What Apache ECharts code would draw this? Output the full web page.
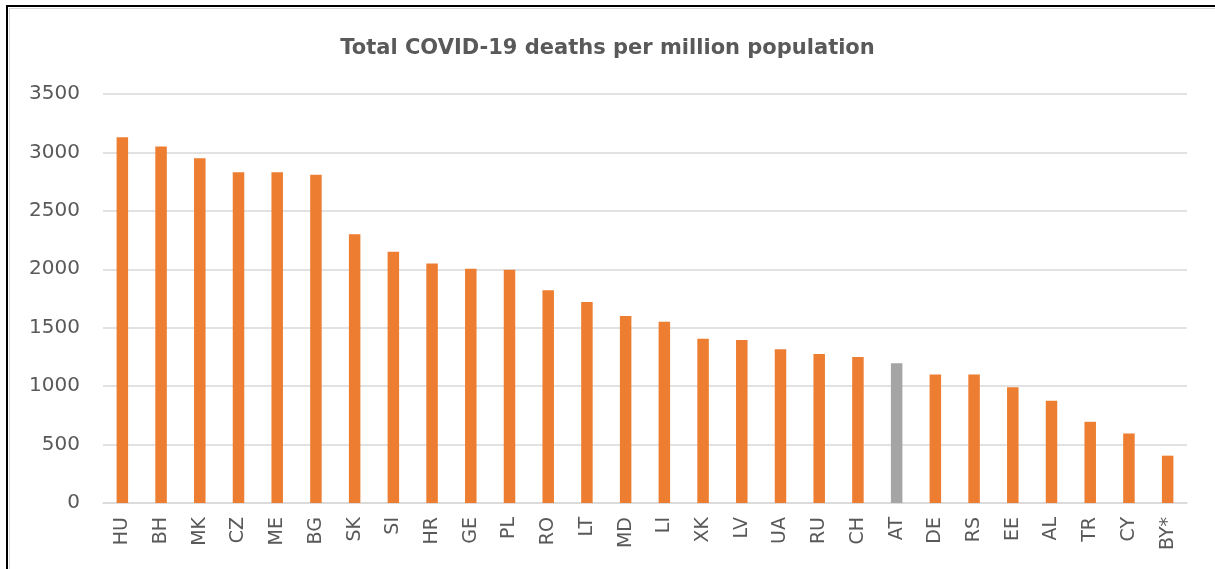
<!DOCTYPE html>
<html>
<head>
<meta charset="utf-8">
<title>Total COVID-19 deaths per million population</title>
<script src="https://cdn.jsdelivr.net/npm/echarts@6/dist/echarts.min.js"></script>
<style>
  html, body { margin: 0; padding: 0; background: #ffffff; overflow: hidden; }
  #frame {
    position: absolute; left: 6px; top: 5px; width: 1240px; height: 600px;
    border-left: 2px solid #000000; border-top: 2px solid #000000;
  }
  #inner {
    position: absolute; left: 1px; top: 1px; right: 0; bottom: 0;
    border-left: 1px solid #d9d9d9; border-top: 1px solid #d9d9d9;
  }
  #chart { position: absolute; left: 0; top: 0; width: 1215px; height: 569px; }
</style>
</head>
<body>
<div id="frame"><div id="inner"></div></div>
<div id="chart"></div>
<script>
// Countries, ordered by deaths per million
const countries = ['HU','BH','MK','CZ','ME','BG','SK','SI','HR','GE','PL','RO','LT','MD','LI',
                   'XK','LV','UA','RU','CH','AT','DE','RS','EE','AL','TR','CY','BY*'];
const deathsPerMillion = [3130, 3050, 2950, 2830, 2830, 2810, 2300, 2150, 2050, 2005, 1995, 1820, 1720, 1600, 1550,
                          1405, 1395, 1315, 1275, 1250, 1195, 1100, 1100, 990, 875, 695, 595, 405];
// Highlighted country (drawn in grey)
const highlight = 'AT';
const yTicks = { min: 0, max: 3500, interval: 500 };

const ORANGE = '#ED7D31';
const GREY = '#A5A5A5';
const TEXT = '#595959';
const GRID = '#d9d9d9';

const chart = echarts.init(document.getElementById('chart'), null, { renderer: 'canvas' });

chart.setOption({
  backgroundColor: 'transparent',
  animation: false,
  title: {
    text: 'Total COVID-19 deaths per million population',
    left: 'center',
    top: 33,
    textStyle: {
      fontFamily: 'DejaVu Sans',
      fontWeight: 'bold',
      fontSize: 21,
      color: TEXT
    }
  },
  grid: { left: 103, right: 28, top: 94, bottom: 66, containLabel: false },
  xAxis: {
    type: 'category',
    data: countries,
    axisLine: { show: true, lineStyle: { color: GRID, width: 1.5 } },
    axisTick: { show: false },
    axisLabel: {
      rotate: 90,
      margin: 14,
      interval: 0,
      fontFamily: 'DejaVu Sans',
      fontSize: 19,
      color: TEXT
    }
  },
  yAxis: {
    type: 'value',
    min: yTicks.min,
    max: yTicks.max,
    interval: yTicks.interval,
    axisLine: { show: false },
    axisTick: { show: false },
    splitLine: { show: true, lineStyle: { color: GRID, width: 1.5 } },
    axisLabel: {
      margin: 23,
      fontFamily: 'DejaVu Sans',
      fontSize: 20,
      color: TEXT,
      formatter: (v) => String(v)
    }
  },
  series: [{
    type: 'bar',
    barWidth: 11.5,
    data: deathsPerMillion.map((v, i) => ({
      value: v,
      itemStyle: { color: countries[i] === highlight ? GREY : ORANGE }
    }))
  }]
});
</script>
</body>
</html>
